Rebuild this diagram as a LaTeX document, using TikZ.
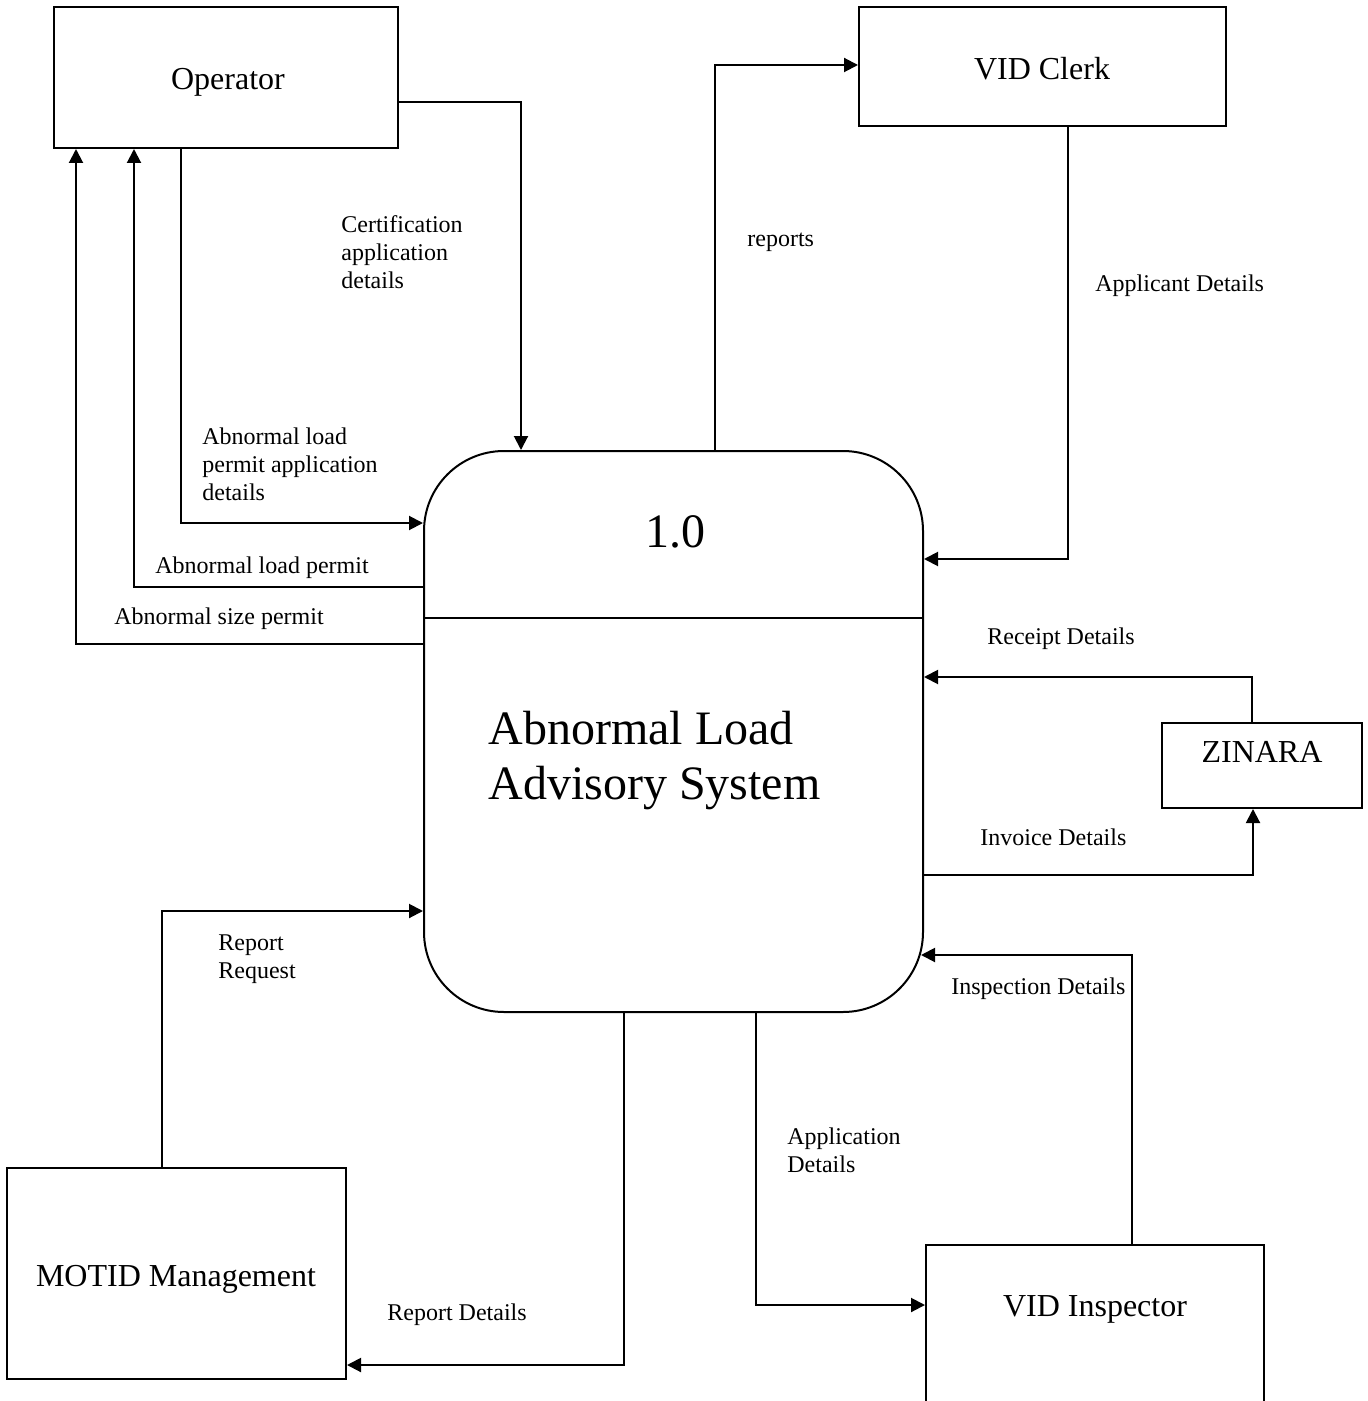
\documentclass[tikz,border=0pt]{standalone}
\usepackage{fontspec}
\setmainfont{Liberation Serif}
\usetikzlibrary{arrows.meta}
\tikzset{
	entity/.style={draw, line width=1pt, inner sep=0pt},
	entitytext/.style={anchor=base, inner sep=0pt, font=\fontsize{16}{19}\selectfont},
	process/.style={draw, line width=1pt, rounded corners=40pt, inner sep=0pt},
	flow/.style={line width=1pt, -{Triangle[length=7pt,width=7pt]}},
	flowlabel/.style={anchor=base west, align=left, inner sep=0pt, font=\fontsize{12}{14}\selectfont}
}
\begin{document}
\begin{tikzpicture}[x=0.5pt,y=0.5pt,yscale=-1,xscale=1]
\useasboundingbox (0,0) rectangle (1367,1401);

% external entities
\node[entity, minimum width=172pt, minimum height=70.5pt] (operator) at (226,77.5) {};
\node[entitytext] (operatortext) at (228,90) {Operator};
\node[entity, minimum width=183.5pt, minimum height=59.5pt] (clerk) at (1042.5,66.5) {};
\node[entitytext] (clerktext) at (1042,80) {VID Clerk};
\node[entity, minimum width=100pt, minimum height=42.5pt] (zinara) at (1262,765.5) {};
\node[entitytext] (zinaratext) at (1262,762) {ZINARA};
\node[entity, minimum width=169.5pt, minimum height=105.5pt] (motid) at (176.5,1273.5) {};
\node[entitytext] (motidtext) at (176,1286) {MOTID Management};
\node[entity, minimum width=169pt, minimum height=82.5pt] (inspector) at (1095,1327.5) {};
\node[entitytext] (inspectortext) at (1095,1316) {VID Inspector};

% process
\node[process, minimum width=249.5pt, minimum height=280.5pt] (proc) at (673.5,731.5) {};
\draw[line width=1pt] (proc.west |- 0,618) -- (proc.east |- 0,618);
\node[anchor=base, inner sep=0pt, font=\fontsize{24}{27.5}\selectfont] (procid) at (675,547) {1.0};
\node[anchor=base west, align=left, inner sep=0pt, font=\fontsize{24}{27.5}\selectfont] (procname) at (488,799) {Abnormal Load\\Advisory System};

% data flows
\draw[flow] (operator.east |- 0,102) -| (521,0 |- proc.north);
\draw[flow] (181,0 |- operator.south) |- (proc.west |- 0,523);
\draw[flow] (proc.west |- 0,587) -| (134,0 |- operator.south);
\draw[flow] (proc.west |- 0,644) -| (76,0 |- operator.south);
\draw[flow] (715,0 |- proc.north) |- (clerk.west |- 0,65);
\draw[flow] (1068,0 |- clerk.south) |- (proc.east |- 0,559);
\draw[flow] (1252,0 |- zinara.north) |- (proc.east |- 0,677);
\draw[flow] (proc.east |- 0,875) -| (1253,0 |- zinara.south);
\draw[flow] (1132,0 |- inspector.north) |- (921,955);
\draw[flow] (756,0 |- proc.south) |- (inspector.west |- 0,1305);
\draw[flow] (162,0 |- motid.north) |- (proc.west |- 0,911);
\draw[flow] (624,0 |- proc.south) |- (motid.east |- 0,1365);

% flow labels (base = last line)
\node[flowlabel] (lcert) at (341,289) {Certification\\application\\details};
\node[flowlabel] (lapp) at (202,500) {Abnormal load\\permit application\\details};
\node[flowlabel] (lload) at (155,573) {Abnormal load permit};
\node[flowlabel] (lsize) at (114,624) {Abnormal size permit};
\node[flowlabel] (lrep) at (747,247) {reports};
\node[flowlabel] (lappl) at (1095,292) {Applicant Details};
\node[flowlabel] (lrec) at (987,644) {Receipt Details};
\node[flowlabel] (linv) at (980,845) {Invoice Details};
\node[flowlabel] (linsp) at (951,994) {Inspection Details};
\node[flowlabel] (lappd) at (787,1172) {Application\\Details};
\node[flowlabel] (lreq) at (218,978) {Report\\Request};
\node[flowlabel] (lrepd) at (387,1320) {Report Details};

\end{tikzpicture}
\end{document}
